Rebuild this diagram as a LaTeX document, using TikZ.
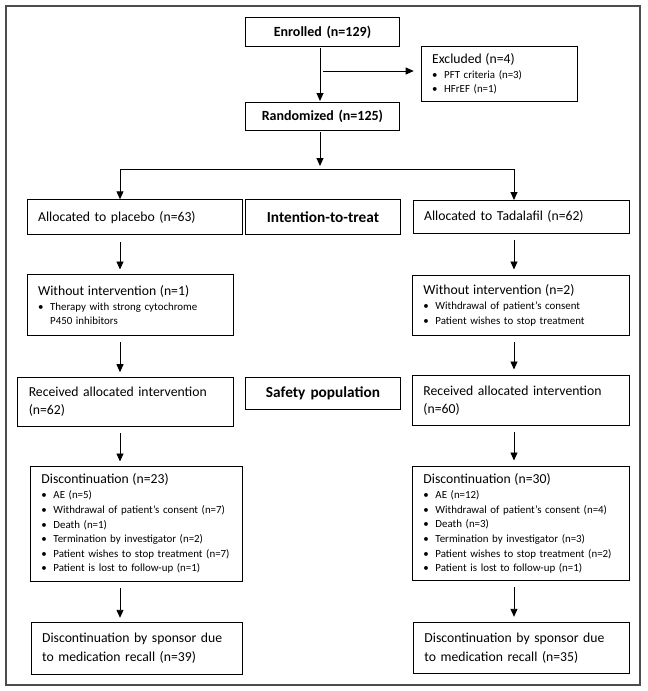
\documentclass[tikz,border=0pt]{standalone}
\usepackage{fontspec}
\setmainfont{Carlito}
\usetikzlibrary{arrows.meta}
\newcommand\bul{\makebox[12pt][l]{\textbullet}}
\begin{document}
\begin{tikzpicture}[x=1pt,y=-1pt,
  box/.style={draw, line width=0.9pt, inner xsep=11pt, inner ysep=0pt, anchor=north west,
    align=left, font=\fontsize{13.7}{18}\selectfont},
  cbox/.style={box, align=center, font=\fontsize{14}{17}\selectfont\bfseries},
  lbox/.style={box, align=center, font=\fontsize{15.3}{18}\selectfont\bfseries},
  blist/.style={box, font=\fontsize{10.9}{14.6}\selectfont},
  arr/.style={-{Triangle[length=8pt,width=7pt]}, line width=0.9pt},
  lnk/.style={line width=0.9pt}
]
\useasboundingbox (0,0) rectangle (648,691);
\draw[line width=1.3pt, black!70] (6,6) rectangle (640,685);

\node[cbox, text width=132pt, minimum height=29pt] (enr) at (245,17) {Enrolled (n=129)};
\node[blist, text width=134pt, minimum height=54.7pt] (exc) at (420.7,46)
  {{\fontsize{13.7}{15}\selectfont Excluded (n=4)}\\[0.5pt]
   \bul PFT criteria (n=3)\\
   \bul HFrEF (n=1)};
\node[cbox, text width=132pt, minimum height=28pt] (rand) at (245,102) {Randomized (n=125)};

\node[box, text width=193pt, minimum height=35pt] (allocL) at (26.7,199.3) {Allocated to placebo (n=63)};
\node[lbox, text width=133pt, minimum height=34.7pt] (itt) at (245,199.3) {Intention-to-treat};
\node[box, text width=194pt, minimum height=32.7pt] (allocR) at (412.7,200) {Allocated to Tadalafil (n=62)};

\node[blist, text width=184.6pt, minimum height=61pt] (woL) at (26.7,274)
  {{\fontsize{13.7}{15}\selectfont Without intervention (n=1)}\\[0.5pt]
   \bul Therapy with strong cytochrome\\
   \hspace*{12pt}P450 inhibitors};
\node[blist, text width=194.7pt, minimum height=60pt] (woR) at (412,275)
  {{\fontsize{13.7}{15}\selectfont Without intervention (n=2)}\\[0.5pt]
   \bul Withdrawal of patient’s consent\\[1pt]
   \bul Patient wishes to stop treatment};

\node[box, text width=194pt, minimum height=49.3pt] (recL) at (17.3,376.7)
  {Received allocated intervention\\(n=62)};
\node[lbox, text width=133pt, minimum height=32.3pt] (safe) at (245,376.7) {Safety population};
\node[box, text width=194.7pt, minimum height=50pt] (recR) at (412,375)
  {Received allocated intervention\\(n=60)};

\node[blist, text width=189.7pt, minimum height=114.7pt] (discL) at (30,466)
  {{\fontsize{13.7}{15}\selectfont Discontinuation (n=23)}\\[0.5pt]
   \bul AE (n=5)\\
   \bul Withdrawal of patient’s consent (n=7)\\
   \bul Death (n=1)\\
   \bul Termination by investigator (n=2)\\
   \bul Patient wishes to stop treatment (n=7)\\
   \bul Patient is lost to follow-up (n=1)};
\node[blist, text width=194.7pt, minimum height=114pt] (discR) at (412,466)
  {{\fontsize{13.7}{15}\selectfont Discontinuation (n=30)}\\[0.5pt]
   \bul AE (n=12)\\
   \bul Withdrawal of patient’s consent (n=4)\\
   \bul Death (n=3)\\
   \bul Termination by investigator (n=3)\\
   \bul Patient wishes to stop treatment (n=2)\\
   \bul Patient is lost to follow-up (n=1)};

\node[box, text width=189pt, minimum height=51.7pt, font=\fontsize{13.7}{19}\selectfont] (finL) at (30.7,622.3)
  {Discontinuation by sponsor due\\to medication recall (n=39)};
\node[box, text width=193.7pt, minimum height=51pt, font=\fontsize{13.7}{19}\selectfont] (finR) at (413,622.3)
  {Discontinuation by sponsor due\\to medication recall (n=35)};

% connectors
\coordinate (Lc) at (120,0);
\coordinate (Rc) at (514,0);
\coordinate (Mc) at (320,0);
\coordinate (spl) at (320,169);
\coordinate (sj) at (320,71);

\draw[arr, shorten <=1.5pt, shorten >=1pt] (enr.south -| Mc) -- (rand.north -| Mc);
\draw[arr, shorten >=7pt] ([xshift=3pt]sj) -- (sj -| exc.west);
\draw[arr, shorten <=1pt] (rand.south -| Mc) -- ([yshift=3pt]spl);
\draw[lnk] (spl -| Lc) -- (spl -| Rc);
\draw[arr] (spl -| Lc) -- (allocL.north -| Lc);
\draw[arr] (spl -| Rc) -- (allocR.north -| Rc);

\foreach \a/\b in {allocL/woL, woL/recL, recL/discL, discL/finL}
  \draw[arr, shorten <=6.5pt, shorten >=4.5pt] (\a.south -| Lc) -- (\b.north -| Lc);
\foreach \a/\b in {allocR/woR, woR/recR, recR/discR, discR/finR}
  \draw[arr, shorten <=6pt, shorten >=5.5pt] (\a.south -| Rc) -- (\b.north -| Rc);
\end{tikzpicture}
\end{document}
